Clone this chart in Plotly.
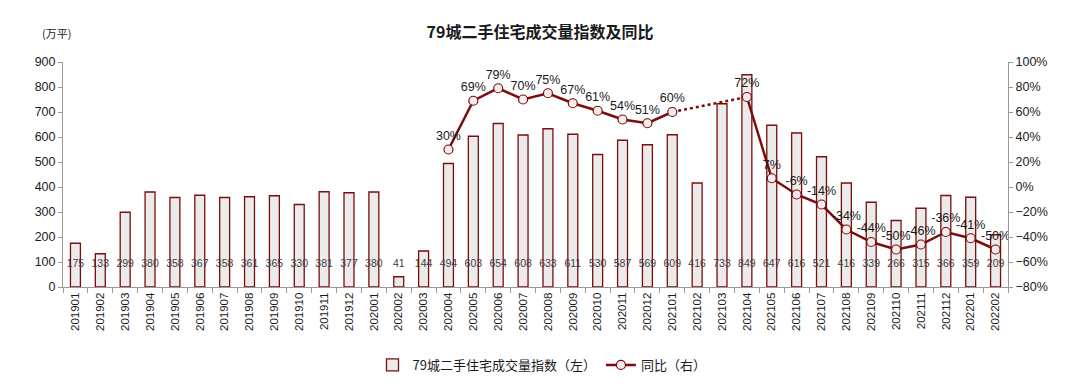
import plotly.graph_objects as go

months = ["201901","201902","201903","201904","201905","201906","201907","201908","201909","201910","201911","201912",
          "202001","202002","202003","202004","202005","202006","202007","202008","202009","202010","202011","202012",
          "202101","202102","202103","202104","202105","202106","202107","202108","202109","202110","202111","202112",
          "202201","202202"]
volume = [175,133,299,380,358,367,358,361,365,330,381,377,
          380,41,144,494,603,654,608,633,611,530,587,569,
          609,416,733,849,647,616,521,416,339,266,315,366,
          359,209]
yoy = [None]*15 + [30,69,79,70,75,67,61,54,51,
       60,None,None,72,7,-6,-14,-34,-44,-50,-46,-36,
       -41,-50]

DARK = "#7b0d0d"
FONT = "Liberation Sans, Arial, Noto Sans CJK SC"
OFF = 8  # page body offset
W, H = 1080, 391
ML, MR, MT, MB = 63 - OFF, 80, 62 - OFF, 112
PW, PH = W - ML - MR, H - MT - MB

fig = go.Figure()
fig.add_trace(go.Bar(
    x=months, y=volume, name="79城二手住宅成交量指数（左）",
    marker=dict(color="#ebebeb", line=dict(color=DARK, width=1.3)),
    width=0.4, yaxis="y",
))
fig.add_trace(go.Scatter(
    x=months, y=[92]*len(months), text=[str(v) for v in volume], mode="text",
    textfont=dict(size=10.5, color="#404040", family=FONT), showlegend=False, hoverinfo="skip",
    yaxis="y",
))
# dotted bridge over missing months
gap_idx = [i for i in range(1, len(yoy)) if yoy[i] is None and yoy[i-1] is not None]
bridge_x, bridge_y = [], []
for i in gap_idx:
    j = i
    while yoy[j] is None:
        j += 1
    bridge_x += [months[i-1], months[j], None]
    bridge_y += [yoy[i-1], yoy[j], None]
fig.add_trace(go.Scatter(
    x=bridge_x, y=bridge_y, mode="lines", line=dict(color=DARK, width=2.5, dash="dot"),
    yaxis="y2", showlegend=False, hoverinfo="skip", connectgaps=False,
))
fig.add_trace(go.Scatter(
    x=months, y=yoy, name="同比（右）", mode="lines+markers+text",
    line=dict(color=DARK, width=2.5),
    marker=dict(size=9, color="#f3ecec", line=dict(color=DARK, width=1.2)),
    text=[f"{v}%" if v is not None else "" for v in yoy], textposition="top center",
    textfont=dict(size=12.5, color="#1a1a1a", family=FONT),
    yaxis="y2", connectgaps=False,
))

fig.update_layout(
    width=W, height=H,
    margin=dict(l=ML, r=MR, t=MT, b=MB, autoexpand=False),
    paper_bgcolor="white", plot_bgcolor="white",
    font=dict(family=FONT, size=12, color="#1a1a1a"),
    title=dict(text="<b>79城二手住宅成交量指数及同比</b>", x=(540 - OFF) / W, xanchor="center",
               y=1 - (32 - OFF) / H, yanchor="middle", yref="container",
               font=dict(size=16, color="#1a1a1a", family="Noto Sans CJK SC")),
    bargap=0.6,
    xaxis=dict(type="category", tickangle=-90, tickfont=dict(size=11.5, color="#1a1a1a"),
               showline=True, linecolor="#999999", linewidth=1, ticks="outside", tickson="boundaries",
               ticklen=5, tickcolor="#999999", showgrid=False, range=[-0.5, len(months)-0.5], automargin=False),
    yaxis=dict(range=[0, 900], dtick=100, showgrid=False, showline=True, linecolor="#999999",
               ticks="outside", ticklen=4, tickcolor="#999999", tickfont=dict(size=12.5), zeroline=False,
               automargin=False),
    yaxis2=dict(range=[-80, 100], dtick=20, overlaying="y", side="right", ticksuffix="%",
                showgrid=False, showline=True, linecolor="#999999", ticks="outside", ticklen=4,
                tickcolor="#999999", tickfont=dict(size=12.5), zeroline=False, automargin=False),
    legend=dict(orientation="h", x=(542 - OFF) / W, xanchor="center", xref="container",
                y=1 - (365 - OFF) / H, yanchor="middle", yref="container",
                font=dict(size=13, family="Noto Sans CJK SC")),
    showlegend=True,
    annotations=[dict(text="(万平)", xref="paper", yref="paper", x=(40 - OFF - ML) / PW,
                      y=(H - MB - (33 - OFF)) / PH, xanchor="left", yanchor="middle",
                      showarrow=False, font=dict(size=11, family="Noto Sans CJK SC"))],
)

fig.write_html("out.html")
